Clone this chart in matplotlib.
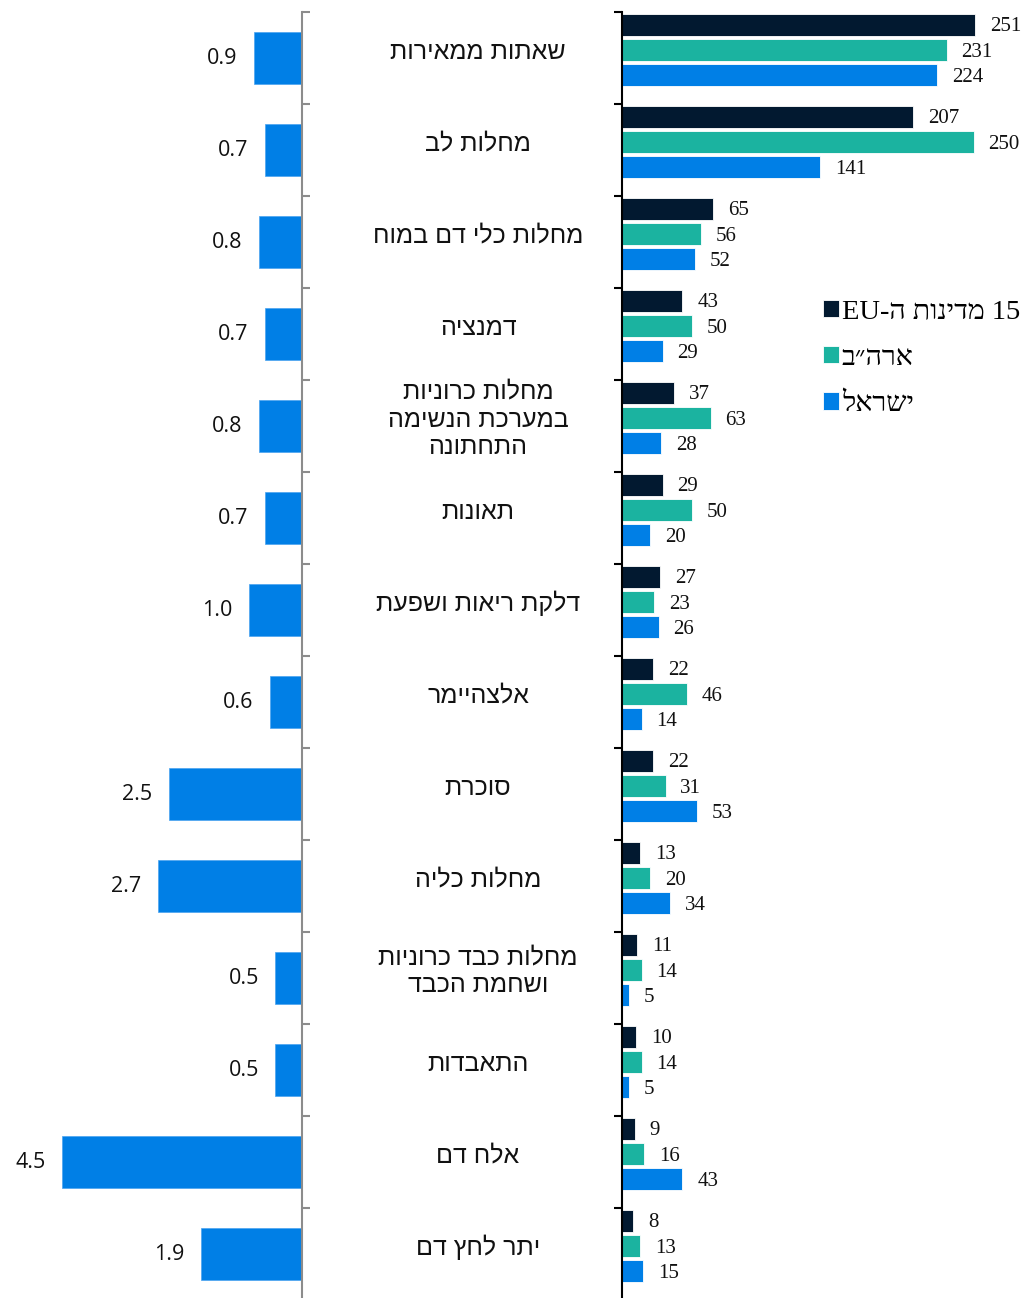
import matplotlib
matplotlib.use("Agg")
import matplotlib.pyplot as plt
import matplotlib.transforms as mtransforms
import numpy as np
import re

# ─── DATA ─────────────────────────────────────────────────
categories = [
    "שאתות ממאירות",
    "מחלות לב",
    "מחלות כלי דם במוח",
    "דמנציה",
    "מחלות כרוניות\nבמערכת הנשימה\nהתחתונה",
    "תאונות",
    "דלקת ריאות ושפעת",
    "אלצהיימר",
    "סוכרת",
    "מחלות כליה",
    "מחלות כבד כרוניות\nושחמת הכבד",
    "התאבדות",
    "אלח דם",
    "יתר לחץ דם",
]
eu15   = [251, 207, 65, 43, 37, 29, 27, 22, 22, 13, 11, 10, 9, 8]
usa    = [231, 250, 56, 50, 63, 50, 23, 46, 31, 20, 14, 14, 16, 13]
israel = [224, 141, 52, 29, 28, 20, 26, 14, 53, 34, 5, 5, 43, 15]
ratio  = [0.9, 0.7, 0.8, 0.7, 0.8, 0.7, 1.0, 0.6, 2.5, 2.7, 0.5, 0.5, 4.5, 1.9]

series_names = ["15 מדינות ה-EU", "ארה״ב", "ישראל"]

# ─── STYLE ────────────────────────────────────────────────
C_EU   = "#021930"
C_US   = "#1bb3a0"
C_ISR  = "#007fe6"
W, H   = 1033, 1298
ROW    = 92.0   # px per category row


def rtl(s):
    # no bidi in matplotlib: reverse the text into visual order,
    # keeping latin/digit runs as they are
    lines = []
    for line in s.split("\n"):
        runs = re.findall(r"[A-Za-z0-9]+|[^A-Za-z0-9]+", line)
        runs = [r if re.match(r"[A-Za-z0-9]", r) else r[::-1] for r in runs]
        lines.append("".join(reversed(runs)))
    return "\n".join(lines)


n = len(categories)
y = np.arange(n)

fig = plt.figure(figsize=(W / 100, H / 100), dpi=100)

ax_bottom = (H - 12 - n * ROW) / H
ax_height = n * ROW / H

# ─── LEFT: ratio bars ─────────────────────────────────────
ax_l = fig.add_axes([0, ax_bottom, 302 / W, ax_height])
ax_l.barh(y, ratio, height=0.57, color=C_ISR, edgecolor="#4aa3f0", linewidth=0.5)
ax_l.set_xlim(302 / 53.3, 0)
ax_l.set_ylim(n - 0.5, -0.5)
for yi, v in zip(y, ratio):
    ax_l.text(v + 0.31, yi, f"{v:.1f}", ha="right", va="center",
              fontsize=15.5, family="Open Sans", color="#111111")
for s in ["top", "left", "bottom"]:
    ax_l.spines[s].set_visible(False)
ax_l.spines["right"].set_color("#8c8c8c")
ax_l.spines["right"].set_linewidth(1.5)
ax_l.yaxis.tick_right()
ax_l.set_yticks(np.arange(-0.5, n, 1.0))
ax_l.set_yticklabels([])
ax_l.tick_params(axis="y", direction="out", length=6, width=1.5, color="#8c8c8c")
ax_l.set_xticks([])

# ─── RIGHT: grouped bars ──────────────────────────────────
ax_r = fig.add_axes([622 / W, ax_bottom, 1 - 622 / W, ax_height])
scale = 1.406  # px per unit
ax_r.set_xlim(0, (W - 622) / scale)
ax_r.set_ylim(n - 0.5, -0.5)

bh, step, shift = 0.24, 0.2745, -0.085
groups = [(eu15, C_EU), (usa, C_US), (israel, C_ISR)]
for k, (vals, col) in enumerate(groups):
    pos = y + shift + (k - 1) * step
    ax_r.barh(pos, vals, height=bh, color=col, edgecolor="white", linewidth=0.6,
              label=rtl(series_names[k]))
    for p, v in zip(pos, vals):
        ax_r.text(v + 10.5, p + 0.02, str(v), ha="left", va="center",
                  fontsize=15, family="Liberation Serif", color="#111111")

for s in ["top", "right", "bottom"]:
    ax_r.spines[s].set_visible(False)
ax_r.spines["left"].set_color("black")
ax_r.spines["left"].set_linewidth(1.5)
ax_r.set_yticks(np.arange(-0.5, n, 1.0))
ax_r.set_yticklabels([])
ax_r.tick_params(axis="y", direction="out", length=6, width=1.5, color="black")
ax_r.set_xticks([])

# ─── CATEGORY LABELS ──────────────────────────────────────
trans = mtransforms.blended_transform_factory(fig.transFigure, ax_r.transData)
for yi, name in zip(y, categories):
    ax_r.text(478 / W, yi - 0.07, rtl(name), transform=trans, ha="center", va="center",
              fontsize=18, family=["Liberation Sans", "DejaVu Sans"],
              linespacing=1.2, color="#111111")

# ─── LEGEND ───────────────────────────────────────────────
leg = ax_r.legend(loc="upper left", bbox_to_anchor=(190 / (W - 622), 1 - 276 / (n * ROW)),
                  frameon=False, handlelength=0.55, handleheight=0.55, handletextpad=0.1,
                  labelspacing=0.75, borderaxespad=0,
                  prop={"family": ["Liberation Serif", "DejaVu Serif"], "size": 20.5})

fig.savefig("out.png", dpi=100)
